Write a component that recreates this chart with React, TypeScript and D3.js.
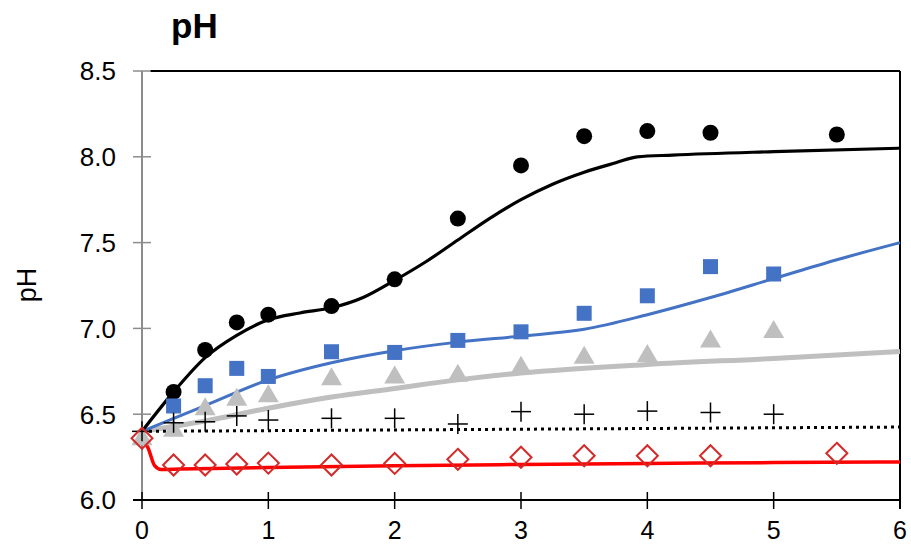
import React from "react";
import * as d3 from "d3";

const xTicks = [0, 1, 2, 3, 4, 5, 6];
const yTicks = [6.0, 6.5, 7.0, 7.5, 8.0, 8.5];

const circleX = [0.25, 0.5, 0.75, 1, 1.5, 2, 2.5, 3, 3.5, 4, 4.5, 5.5];
const circleY = [6.63, 6.874, 7.035, 7.08, 7.13, 7.286, 7.64, 7.95, 8.12, 8.15, 8.14, 8.13];

const squareX = [0.25, 0.5, 0.75, 1, 1.5, 2, 2.5, 3, 3.5, 4, 4.5, 5];
const squareY = [6.548, 6.666, 6.767, 6.72, 6.864, 6.86, 6.93, 6.98, 7.088, 7.19, 7.36, 7.317];

const triX = [0, 0.25, 0.5, 0.75, 1, 1.5, 2, 2.5, 3, 3.5, 4, 4.5, 5];
const triY = [6.36, 6.41, 6.535, 6.59, 6.61, 6.71, 6.72, 6.73, 6.777, 6.835, 6.845, 6.93, 6.985];

const plusX = [0, 0.25, 0.5, 0.75, 1, 1.5, 2, 2.5, 3, 3.5, 4, 4.5, 5];
const plusY = [6.4, 6.45, 6.456, 6.49, 6.466, 6.476, 6.476, 6.443, 6.515, 6.5, 6.518, 6.51, 6.5];

const diamondX = [0, 0.25, 0.5, 0.75, 1, 1.5, 2, 2.5, 3, 3.5, 4, 4.5, 5.5];
const diamondY = [6.36, 6.204, 6.204, 6.21, 6.215, 6.204, 6.213, 6.237, 6.249, 6.258, 6.258, 6.258, 6.272];

// model curves
const blackLineX = [0, 0.25, 0.5, 0.75, 1, 1.25, 1.5, 1.75, 2, 2.25, 2.5, 2.75, 3, 3.25, 3.5, 3.75, 3.92, 4.2, 5, 6];
const blackLineY = [6.4, 6.63, 6.83, 6.96, 7.05, 7.09, 7.12, 7.18, 7.28, 7.39, 7.515, 7.64, 7.75, 7.84, 7.91, 7.965, 8.0, 8.01, 8.03, 8.05];

const blueLineX = [0, 0.5, 1, 1.5, 2, 2.5, 3, 3.5, 4, 4.5, 5, 5.5, 6];
const blueLineY = [6.4, 6.55, 6.7, 6.8, 6.87, 6.92, 6.955, 6.995, 7.08, 7.18, 7.29, 7.4, 7.5];

const grayLineX = [0, 0.5, 1, 1.5, 2, 2.5, 3, 4, 5, 6];
const grayLineY = [6.4, 6.46, 6.535, 6.6, 6.65, 6.7, 6.74, 6.79, 6.825, 6.865];

const dotLineX = [0, 6];
const dotLineY = [6.4, 6.425];

const redLineX = [0, 0.05, 0.1, 0.15, 0.3, 1, 2, 3, 4, 5, 6];
const redLineY = [6.37, 6.3, 6.2, 6.178, 6.18, 6.19, 6.2, 6.207, 6.213, 6.218, 6.222];

const W = 911;
const H = 546;
const x = d3.scaleLinear().domain([0, 6]).range([142, 900]);
const y = d3.scaleLinear().domain([6, 8.5]).range([500, 71]);

const zip = (xs: number[], ys: number[]) => xs.map((v, i) => [v, ys[i]] as [number, number]);

const lineGen = d3
  .line<[number, number]>()
  .x((d) => x(d[0]))
  .y((d) => y(d[1]))
  .curve(d3.curveMonotoneX);

const FONT = "Liberation Sans, Arial, sans-serif";

export default function App() {
  const diamondPath = (cx: number, cy: number, r: number) =>
    `M${cx},${cy - r}L${cx + r},${cy}L${cx},${cy + r}L${cx - r},${cy}Z`;
  const triPath = (cx: number, cy: number) =>
    `M${cx},${cy - 11}L${cx + 10.5},${cy + 7}L${cx - 10.5},${cy + 7}Z`;

  return (
    <svg
      width={W}
      height={H}
      style={{ position: "absolute", left: 0, top: 0, background: "#fff" }}
      fontFamily={FONT}
    >
      <rect x={0} y={0} width={W} height={H} fill="#fff" />
      {/* title */}
      <text x={171} y={38} fontSize={35} fontWeight="bold" fill="#000">
        pH
      </text>
      {/* y axis title */}
      <text
        transform={`translate(36,285) rotate(-90)`}
        textAnchor="middle"
        fontSize={27}
        fill="#000"
      >
        pH
      </text>

      {/* frame */}
      <line x1={150} x2={900} y1={y(8.5)} y2={y(8.5)} stroke="#000" strokeWidth={2} />
      <line x1={900} x2={900} y1={y(8.5)} y2={509} stroke="#000" strokeWidth={2} />
      <line x1={x(0)} x2={x(0)} y1={y(8.5)} y2={y(6)} stroke="#8c8c8c" strokeWidth={2} />
      {yTicks.map((t) => (
        <g key={t}>
          <line x1={133} x2={151} y1={y(t)} y2={y(t)} stroke="#8c8c8c" strokeWidth={1.5} />
          <text x={116} y={y(t)} dy="0.36em" textAnchor="end" fontSize={26} fill="#000">
            {t.toFixed(1)}
          </text>
        </g>
      ))}
      <line x1={133} x2={900} y1={y(6)} y2={y(6)} stroke="#000" strokeWidth={2} />
      {xTicks.map((t) => (
        <g key={t}>
          <line x1={x(t)} x2={x(t)} y1={492} y2={509} stroke="#000" strokeWidth={1.5} />
          <text x={x(t)} y={539} textAnchor="middle" fontSize={25} fill="#000">
            {t}
          </text>
        </g>
      ))}

      {/* model lines */}
      <path d={lineGen(zip(grayLineX, grayLineY)) || ""} fill="none" stroke="#bfbfbf" strokeWidth={5} />
      <path d={lineGen(zip(blueLineX, blueLineY)) || ""} fill="none" stroke="#4472c4" strokeWidth={3} />
      <path d={lineGen(zip(blackLineX, blackLineY)) || ""} fill="none" stroke="#000" strokeWidth={3.2} />
      <path
        d={lineGen(zip(dotLineX, dotLineY)) || ""}
        fill="none"
        stroke="#000"
        strokeWidth={3}
        strokeDasharray="3 4"
      />
      <path d={lineGen(zip(redLineX, redLineY)) || ""} fill="none" stroke="#ff0000" strokeWidth={3.5} />

      {/* markers */}
      {zip(circleX, circleY).map((d, i) => (
        <circle key={"c" + i} cx={x(d[0])} cy={y(d[1])} r={8} fill="#000" />
      ))}
      {zip(squareX, squareY).map((d, i) => (
        <rect key={"s" + i} x={x(d[0]) - 7.5} y={y(d[1]) - 7.5} width={15} height={15} fill="#4472c4" />
      ))}
      {zip(triX, triY).map((d, i) => (
        <path key={"t" + i} d={triPath(x(d[0]), y(d[1]))} fill="#bfbfbf" />
      ))}
      {zip(plusX, plusY).map((d, i) => (
        <g key={"p" + i} stroke="#000" strokeWidth={1.5}>
          <line x1={x(d[0]) - 10} x2={x(d[0]) + 10} y1={y(d[1])} y2={y(d[1])} />
          <line x1={x(d[0])} x2={x(d[0])} y1={y(d[1]) - 10} y2={y(d[1]) + 10} />
        </g>
      ))}
      {zip(diamondX, diamondY).map((d, i) => (
        <path
          key={"d" + i}
          d={diamondPath(x(d[0]), y(d[1]), 10.5)}
          fill="none"
          stroke="#d42a2a"
          strokeWidth={2}
        />
      ))}
    </svg>
  );
}
